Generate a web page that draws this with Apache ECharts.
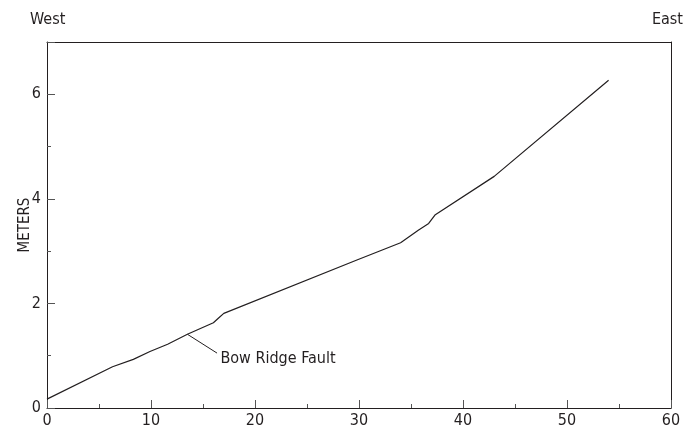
<!DOCTYPE html>
<html>
<head>
<meta charset="utf-8">
<script src="https://cdn.jsdelivr.net/npm/echarts@6/dist/echarts.min.js"></script>
<style>
html,body{margin:0;padding:0;background:#fff;}
#chart{width:699px;height:425px;}
</style>
</head>
<body>
<div id="chart"></div>
<script>
// Data
const distance = [0, 6.3, 8.3, 9.9, 11.6, 13.5, 16.0, 16.5, 17.0, 29.8, 34.0, 35.7, 36.7, 37.3, 43.0, 54.0];
const meters   = [0.17, 0.79, 0.93, 1.08, 1.22, 1.41, 1.63, 1.72, 1.81, 2.83, 3.16, 3.40, 3.53, 3.69, 4.43, 6.27];
const faultLabel = 'Bow Ridge Fault';
const faultIndex = 5;               // point on the profile where the fault is marked
const faultLabelAt = [16.35, 1.05]; // data-space end of leader line
const yTickLabels = ['0', '2', '4', '6'];
const westLabel = 'West';
const eastLabel = 'East';
const yName = 'METERS';

const FONT = "'Liberation Sans Narrow', 'DejaVu Sans Condensed', sans-serif";
const TXT = '#231f20';
const LINE = '#231f20';
const TICK = '#555';

const chart = echarts.init(document.getElementById('chart'), null, {renderer: 'canvas'});
const pts = distance.map((d, i) => [d, meters[i]]);

const hidden = {axisLabel: {show: false}, splitLine: {show: false}};

chart.setOption({
  animation: false,
  title: [
    {text: westLabel, left: 25, top: 7, textStyle: {fontFamily: FONT, fontSize: 16, fontWeight: 'normal', color: TXT}},
    {text: eastLabel, right: 11, top: 7, textStyle: {fontFamily: FONT, fontSize: 16, fontWeight: 'normal', color: TXT}}
  ],
  grid: {left: 47, right: 28, top: 42, bottom: 17, containLabel: false, outerBoundsMode: 'none'},
  xAxis: [{
    type: 'value', min: 0, max: 60, interval: 10,
    axisLine: {show: true, onZero: false, lineStyle: {color: LINE, width: 1}},
    axisTick: {show: true, inside: true, length: 8, lineStyle: {color: TICK}},
    axisLabel: {fontFamily: FONT, fontSize: 16, color: TXT, margin: 5},
    splitLine: {show: false}
  }, {
    type: 'value', position: 'bottom', min: 0, max: 60, interval: 5,
    axisLine: {show: false, onZero: false},
    axisTick: {show: true, inside: true, length: 4, lineStyle: {color: TICK}},
    ...hidden
  }, {
    type: 'value', position: 'top', min: 0, max: 60,
    axisLine: {show: true, onZero: false, lineStyle: {color: LINE, width: 1}},
    axisTick: {show: false}, ...hidden
  }],
  yAxis: [{
    type: 'value', min: 0, max: 7, interval: 2,
    name: yName, nameLocation: 'middle', nameGap: 14, nameMoveOverlap: false,
    nameTextStyle: {fontFamily: FONT, fontSize: 15, color: TXT},
    axisLine: {show: true, onZero: false, lineStyle: {color: LINE, width: 1}},
    axisTick: {show: true, inside: true, length: 8, lineStyle: {color: TICK}},
    axisLabel: {fontFamily: FONT, fontSize: 16, color: TXT, margin: 6,
      formatter: v => yTickLabels.includes(String(v)) ? String(v) : ''},
    splitLine: {show: false}
  }, {
    type: 'value', position: 'left', offset: 0, min: 0, max: 7, interval: 1,
    axisLine: {show: false, onZero: false},
    axisTick: {show: true, inside: true, length: 4, lineStyle: {color: TICK}},
    ...hidden
  }, {
    type: 'value', position: 'right', min: 0, max: 7,
    axisLine: {show: true, onZero: false, lineStyle: {color: LINE, width: 1}},
    axisTick: {show: false}, ...hidden
  }],
  series: [{
    type: 'line', data: pts, symbol: 'none', smooth: false,
    lineStyle: {color: LINE, width: 1.2},
    markLine: {
      silent: true, symbol: ['none', 'none'], animation: false,
      lineStyle: {color: LINE, width: 1, type: 'solid'},
      label: {show: true, position: 'end', distance: 4, offset: [0, 4], formatter: faultLabel,
        fontFamily: FONT, fontSize: 16, color: TXT},
      data: [[{coord: pts[faultIndex]}, {coord: faultLabelAt}]]
    }
  }]
});
</script>
</body>
</html>
